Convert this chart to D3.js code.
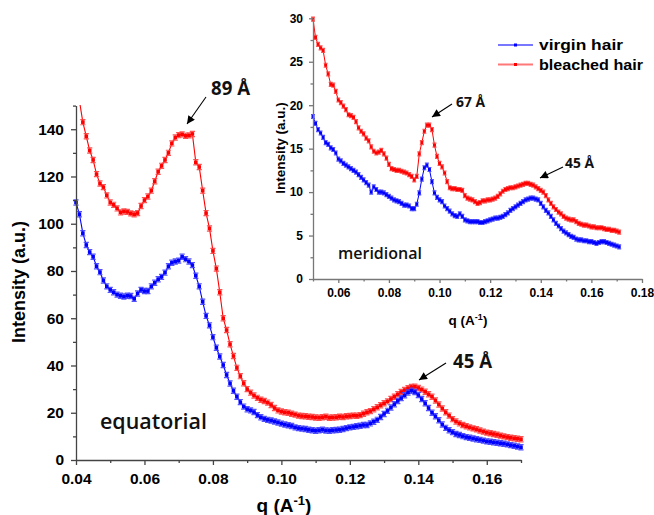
<!DOCTYPE html>
<html><head><meta charset="utf-8">
<script src="https://cdn.jsdelivr.net/npm/d3@7"></script>
<style>body{margin:0;background:#fff} svg{display:block}</style>
</head><body><svg id="c" width="654" height="515"></svg>
<script>
// ---------- DATA ----------
// main panel (equatorial), q sampled every 0.001 A^-1
const mainBlueStart = 0.040, mainRedStart = 0.041, mainStep = 0.001;
const mainBlue = [109,104,96,91,88,86,82,79.5,76,73.5,
 72,71,70,69.5,69.2,69.5,69.4,68.2,70.5,72,
 71.5,71.5,73.5,75,76.5,77.5,79.3,82,83.5,84,
 84.4,86,85,84,82.5,78,73.5,67,61,57,
 52,47.5,43.8,40.2,36,32.4,29.3,26.8,24.5,22.6,
 21.5,21,20.3,19,18.1,17.4,17,16.7,16.3,15.9,
 15.4,15,14.7,14.4,13.8,13.5,13.3,13.1,12.8,12.6,
 12.4,12.6,12.8,12.5,12.4,12.6,12.7,12.8,13.1,13.5,
 13.8,14,14.3,14.5,14.8,14.8,15.5,16.2,17,18.2,
 19.5,20.8,22.2,23.6,25,26.2,27.4,28.6,29.3,28.8,
 27.5,25.8,24,22,20,18.5,16.8,15,13.6,12.6,
 11.8,11,10.6,10.1,9.7,9.4,9.1,8.8,8.5,8.2,
 7.9,7.7,7.5,7.3,7.1,6.9,6.6,6.3,6.0,5.7,
 5.4];
const mainRed = [152,143,137,131,127,121,117,115.5,112,109,
 108,106.5,104.8,105.2,105,104.4,104,104.5,107.5,110,
 111.5,114,118,122,124.5,127,130,134,136.5,137.5,
 137.8,137.2,137.4,138,126,124,114,104.5,98,88.5,
 81,71,60,55,49,44,39,35.5,32.5,30,
 28.5,27.3,26.3,25.5,25,24.3,23.3,22,21,20.5,
 20.2,20,19.6,19.2,18.8,18.6,18.5,18.3,18.2,18,
 17.9,18.1,18.3,17.9,18,18.1,18.3,18.2,18.5,18.6,
 18.8,18.7,19,19.6,20.2,20.7,21.5,22.3,23.2,24,
 24.8,25.8,26.8,27.8,28.8,29.6,30.4,30.9,31,30.5,
 29.8,28.9,27.8,26.8,25.2,23.5,21.8,20.2,18.8,17.3,
 16.3,15.5,14.8,14.3,13.8,13.4,13,12.5,12,11.6,
 11.3,11,10.7,10.3,10,9.7,9.4,9.2,9,8.8];
// inset panel (meridional)
const insetStart = 0.050, insetStep = 0.001;
const insetRed = [29.9,27.8,27.0,26.6,26.3,24.6,23.6,22.4,22.3,21.6,
 20.6,20.3,19.9,19.5,18.9,18.8,18.6,18.1,17.4,17.0,
 16.7,16.2,15.9,15.2,14.7,14.5,14.6,14.8,14.4,13.9,
 13.2,12.7,12.6,12.5,12.5,12.4,12.3,12.2,12.0,11.8,
 11.4,11.8,14.4,15.7,17.0,17.7,17.7,17.2,15.4,14.1,
 13.3,12.9,12.2,11.2,10.5,10.4,10.4,10.3,10.3,10.2,
 9.6,9.3,9.2,9.1,8.9,8.7,8.8,9.0,9.0,9.1,
 9.1,9.2,9.3,9.5,9.8,10.1,10.3,10.4,10.5,10.5,
 10.6,10.7,10.8,10.9,11.0,11.0,10.9,10.8,10.6,10.4,
 10.2,10.0,9.6,9.1,8.7,8.3,8.0,7.7,7.5,7.2,
 7.0,6.9,6.8,6.8,6.6,6.4,6.3,6.2,6.2,6.1,
 6.0,6.0,5.9,5.9,5.9,5.8,5.7,5.7,5.6,5.6,
 5.5,5.4];
const insetBlue = [18.7,17.9,17.2,16.8,16.3,15.7,15.5,15.1,14.9,14.5,
 13.8,13.6,13.3,13.1,12.9,12.7,12.5,12.3,12.0,11.7,
 11.4,11.1,10.8,10.0,10.6,10.3,10.0,10.0,9.9,9.7,
 9.5,9.3,9.1,9.0,8.9,8.7,8.5,8.5,8.4,8.1,
 8.1,8.6,9.9,11.5,12.8,13.1,12.6,11.2,9.9,9.4,
 9.1,8.9,8.4,8.1,7.8,7.5,7.3,7.2,7.5,7.2,
 6.8,6.7,6.6,6.6,6.6,6.6,6.5,6.5,6.6,6.7,
 6.8,6.9,7.0,7.0,7.1,7.2,7.4,7.6,7.9,8.1,
 8.3,8.5,8.7,8.9,9.1,9.2,9.3,9.3,9.2,9.1,
 8.7,8.3,7.9,7.6,7.2,6.8,6.4,6.1,5.8,5.5,
 5.3,5.1,4.9,4.8,4.6,4.5,4.5,4.4,4.4,4.3,
 4.3,4.2,4.1,4.2,4.3,4.3,4.2,4.1,4.0,3.9,
 3.8,3.7];
const mainXTicks = [0.04,0.06,0.08,0.10,0.12,0.14,0.16];
const mainXMinor = [0.05,0.07,0.09,0.11,0.13,0.15,0.17];
const mainYTicks = [0,20,40,60,80,100,120,140];
const mainYMinor = [10,30,50,70,90,110,130,150];
const insetXTicks = [0.06,0.08,0.10,0.12,0.14,0.16,0.18];
const insetXMinor = [0.05,0.07,0.09,0.11,0.13,0.15,0.17];
const insetYTicks = [0,5,10,15,20,25,30];
const insetYMinor = [2.5,7.5,12.5,17.5,22.5,27.5];
const seriesNames = ["virgin hair","bleached hair"];

// ---------- DRAW ----------
const svg = d3.select('#c');
const AX = "'Liberation Sans', Arial, sans-serif";
const ANN = "'Open Sans', sans-serif";
const defs = svg.append('defs');
defs.append('marker').attr('id','arr').attr('viewBox','0 0 10 10')
  .attr('refX',10).attr('refY',5).attr('markerWidth',10).attr('markerHeight',8)
  .attr('markerUnits','userSpaceOnUse').attr('orient','auto')
  .append('path').attr('d','M0,0 L10,5 L0,10 z').attr('fill','#000');

const qs = (start, n) => d3.range(n).map(i => +(start + i*mainStep).toFixed(4));

function axes(g, x, y, o) {
  const xa = g.append('g').attr('transform',`translate(0,${y.range()[0]})`)
    .call(d3.axisBottom(x).tickValues(o.xt).tickFormat(d3.format('.2f'))
      .tickSize(o.ts).tickSizeOuter(0).tickPadding(o.xpad));
  const xm = g.append('g').attr('transform',`translate(0,${y.range()[0]})`)
    .call(d3.axisBottom(x).tickValues(o.xm).tickFormat('').tickSize(o.ms).tickSizeOuter(0));
  xm.select('.domain').remove();
  const ya = g.append('g').attr('transform',`translate(${x.range()[0]},0)`)
    .call(d3.axisLeft(y).tickValues(o.yt).tickFormat(d3.format('d'))
      .tickSize(o.ts).tickSizeOuter(0).tickPadding(o.ypad));
  const ym = g.append('g').attr('transform',`translate(${x.range()[0]},0)`)
    .call(d3.axisLeft(y).tickValues(o.ym).tickFormat('').tickSize(o.ms).tickSizeOuter(0));
  ym.select('.domain').remove();
  [xa,xm,ya,ym].forEach(a => {
    a.selectAll('path,line').attr('stroke',o.col).attr('stroke-width',o.sw);
    a.selectAll('text').attr('font-family',AX).attr('font-weight','bold')
      .attr('font-size',o.fs).attr('fill','#000');
  });
}

function series(g, x, y, q, v, col, light, e, r, lw) {
  const pts = q.map((d,i)=>[x(d), y(v[i])]);
  g.append('path').attr('d', d3.line()(pts)).attr('fill','none')
    .attr('stroke',col).attr('stroke-width',lw);
  const m = g.append('g');
  m.selectAll('path.eb').data(pts).join('path').attr('class','eb')
    .attr('d', p => `M${p[0]-e},${p[1]-e}h${2*e}M${p[0]-e},${p[1]+e}h${2*e}M${p[0]},${p[1]-e}v${2*e}`)
    .attr('stroke',light).attr('stroke-width',1.2).attr('fill','none').attr('opacity',0.9);
  m.selectAll('rect').data(pts).join('rect')
    .attr('x',p=>p[0]-r).attr('y',p=>p[1]-r).attr('width',2*r).attr('height',2*r)
    .attr('fill',col);
}

function arrow(x1,y1,x2,y2) {
  svg.append('line').attr('x1',x1).attr('y1',y1).attr('x2',x2).attr('y2',y2)
    .attr('stroke','#000').attr('stroke-width',1.1).attr('marker-end','url(#arr)');
}
function ann(t, x, y, fs, len, w) {
  svg.append('text').attr('x',x).attr('y',y).text(t)
    .attr('font-family',ANN).attr('font-weight',w||700).attr('font-size',fs)
    .attr('fill','#111').attr('textLength',len).attr('lengthAdjust','spacingAndGlyphs');
}

// ---- main panel ----
const mx = d3.scaleLinear([0.04,0.17],[76,521]);
const my = d3.scaleLinear([0,150],[460,105.6]);
defs.append('clipPath').attr('id','mclip').append('rect')
  .attr('x',70).attr('y',105).attr('width',460).attr('height',360);
const mg = svg.append('g');
const mplot = mg.append('g').attr('clip-path','url(#mclip)');
series(mplot, mx, my, qs(mainRedStart, mainRed.length), mainRed, '#ff0000', '#ff4040', 2.6, 1.8, 1.1);
series(mplot, mx, my, qs(mainBlueStart, mainBlue.length), mainBlue, '#0000ff', '#4040ff', 2.6, 1.8, 1.1);
axes(mg, mx, my, {xt:mainXTicks, xm:mainXMinor, yt:mainYTicks, ym:mainYMinor,
  ts:5, ms:3, xpad:8, ypad:7, col:'#444', sw:1.3, fs:15.5});
mg.append('text').attr('transform','translate(25,282) rotate(-90)').attr('text-anchor','middle')
  .attr('font-family',AX).attr('font-weight','bold').attr('font-size',18).text('Intensity (a.u.)');
const mxl = mg.append('text').attr('x',284).attr('y',512).attr('text-anchor','middle')
  .attr('font-family',AX).attr('font-weight','bold').attr('font-size',19);
mxl.append('tspan').text('q (A');
mxl.append('tspan').attr('font-size',13).attr('dy',-7).text('-1');
mxl.append('tspan').attr('dy',7).text(')');

// ---- inset panel ----
const ix = d3.scaleLinear([0.05,0.18],[313,642]);
const iy = d3.scaleLinear([0,30],[279,18.3]);
const ig = svg.append('g');
series(ig, ix, iy, qs(insetStart, insetRed.length), insetRed, '#ff0000', '#ff4040', 2, 1.5, 1);
series(ig, ix, iy, qs(insetStart, insetBlue.length), insetBlue, '#0000ff', '#4040ff', 2, 1.5, 1);
axes(ig, ix, iy, {xt:insetXTicks, xm:insetXMinor, yt:insetYTicks, ym:insetYMinor,
  ts:4, ms:2.5, xpad:5, ypad:6, col:'#777', sw:1.3, fs:12});
ig.append('text').attr('transform','translate(285,148) rotate(-90)').attr('text-anchor','middle')
  .attr('font-family',AX).attr('font-weight','bold').attr('font-size',13.5).text('Intensity (a.u.)');
const ixl = ig.append('text').attr('x',468).attr('y',325).attr('text-anchor','middle')
  .attr('font-family',AX).attr('font-weight','bold').attr('font-size',13.5);
ixl.append('tspan').text('q (A');
ixl.append('tspan').attr('font-size',9).attr('dy',-5).text('-1');
ixl.append('tspan').attr('dy',5).text(')');

// legend
const legCols = [['#7878ff','#0000ff'],['#ff7878','#ff0000']];
seriesNames.forEach((n,i) => {
  const yy = 45 + i*19.5;
  svg.append('line').attr('x1',498).attr('x2',533).attr('y1',yy).attr('y2',yy)
    .attr('stroke',legCols[i][0]).attr('stroke-width',2);
  svg.append('rect').attr('x',514).attr('y',yy-1.5).attr('width',3).attr('height',3).attr('fill',legCols[i][1]);
  svg.append('text').attr('x',539).attr('y',yy+5).text(n)
    .attr('font-family',AX).attr('font-weight','bold').attr('font-size',15)
    .attr('textLength', i===0 ? 84 : 104).attr('lengthAdjust','spacingAndGlyphs');
});

// annotations
ann('89 Å', 211, 95, 20, 39);
arrow(206, 97, 187, 124);
ann('45 Å', 453, 368, 19, 39);
arrow(446, 363, 419, 380);
ann('67 Å', 456, 107, 15, 29);
arrow(452, 104, 432, 117);
ann('45 Å', 565, 168, 15, 29);
arrow(563, 167, 540, 178);
ann('equatorial', 100, 429, 22, 107, 600);
ann('meridional', 338, 259, 16, 84, 600);
</script></body></html>
